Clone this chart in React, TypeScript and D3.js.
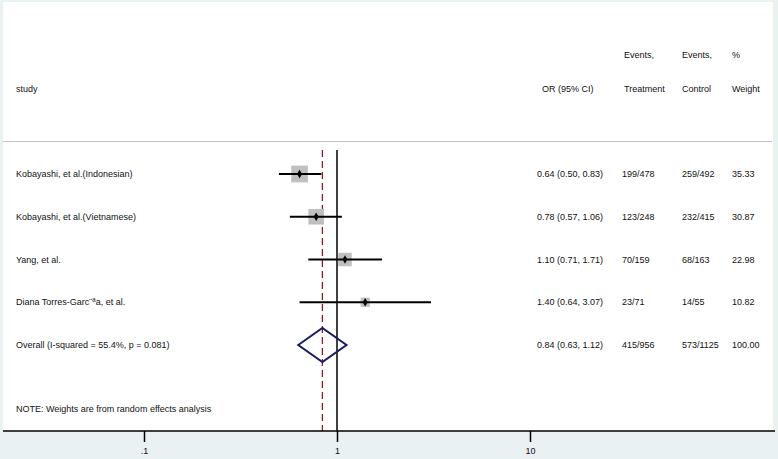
import React, { useRef, useEffect } from "react";
import * as d3 from "d3";

// study rows
const studies = [
  "Kobayashi, et al.(Indonesian)",
  "Kobayashi, et al.(Vietnamese)",
  "Yang, et al.",
  "Diana Torres-Garc\u00a8\u00aaa, et al.",
];
const oddsRatio = [0.64, 0.78, 1.1, 1.4];
const ciLow = [0.5, 0.57, 0.71, 0.64];
const ciHigh = [0.83, 1.06, 1.71, 3.07];
const eventsTreatment = ["199/478", "123/248", "70/159", "23/71"];
const eventsControl = ["259/492", "232/415", "68/163", "14/55"];
const weights = [35.33, 30.87, 22.98, 10.82];

// pooled estimate
const overallLabel = "Overall  (I-squared = 55.4%, p = 0.081)";
const overallOR = 0.84;
const overallLow = 0.63;
const overallHigh = 1.12;
const overallTreatment = "415/956";
const overallControl = "573/1125";
const overallWeight = "100.00";

const axisTicks = [0.1, 1, 10];
const axisTickLabels = [".1", "1", "10"];

const fmt = d3.format(".2f");

const ForestPlot: React.FC = () => {
  const ref = useRef<SVGSVGElement | null>(null);

  useEffect(() => {
    if (!ref.current) return;
    const svg = d3.select(ref.current);
    svg.selectAll("*").remove();

    const width = 778;
    const height = 459;
    const font = "'Liberation Sans', Arial, sans-serif";
    const fs = 9;

    // background + white plot region
    svg.append("rect").attr("width", width).attr("height", height).attr("fill", "#e9f1f3");
    svg.append("rect").attr("x", 3).attr("y", 2).attr("width", 770).attr("height", 429).attr("fill", "#ffffff");

    const x = d3.scaleLog().domain([0.1, 10]).range([144, 530]);
    const rowIdx = d3.range(studies.length + 1);
    const y = d3.scalePoint<number>().domain(rowIdx).range([174, 345]);
    const box = d3.scaleSqrt().domain([0, d3.max(weights)!]).range([0, 16.7]);

    const cols = { study: 16, or: 537, treat: 622, ctrl: 682, wt: 732 };

    const text = (tx: number, ty: number, s: string) =>
      svg
        .append("text")
        .attr("x", tx)
        .attr("y", ty)
        .attr("dy", "0.35em")
        .style("font-family", font)
        .style("font-size", `${fs}px`)
        .style("fill", "#111")
        .text(s);

    // header
    const h1 = 55;
    const h2 = 89;
    text(cols.treat + 2, h1, "Events,");
    text(cols.ctrl, h1, "Events,");
    text(cols.wt, h1, "%");
    text(cols.study, h2, "study");
    text(cols.or + 5, h2, "OR (95% CI)");
    text(cols.treat + 2, h2, "Treatment");
    text(cols.ctrl, h2, "Control");
    text(cols.wt, h2, "Weight");

    svg
      .append("line")
      .attr("x1", 3)
      .attr("x2", 772)
      .attr("y1", 141.5)
      .attr("y2", 141.5)
      .attr("stroke", "#c4c4c4")
      .attr("stroke-width", 1);

    const axisY = 431;
    const lineTop = 150;

    // null line
    svg
      .append("line")
      .attr("x1", x(1))
      .attr("x2", x(1))
      .attr("y1", lineTop)
      .attr("y2", axisY)
      .attr("stroke", "#000")
      .attr("stroke-width", 1.5);

    // overall dashed line
    svg
      .append("line")
      .attr("x1", x(overallOR))
      .attr("x2", x(overallOR))
      .attr("y1", lineTop)
      .attr("y2", axisY)
      .attr("stroke", "#8a1c2c")
      .attr("stroke-width", 1.3)
      .attr("stroke-dasharray", "7,4");

    // study rows
    studies.forEach((s, i) => {
      const cy = y(i)!;
      const side = box(weights[i]);
      svg
        .append("rect")
        .attr("x", x(oddsRatio[i]) - side / 2)
        .attr("y", cy - side / 2)
        .attr("width", side)
        .attr("height", side)
        .attr("fill", "#bfbfbf");
      svg
        .append("line")
        .attr("x1", x(ciLow[i]))
        .attr("x2", x(ciHigh[i]))
        .attr("y1", cy)
        .attr("y2", cy)
        .attr("stroke", "#000")
        .attr("stroke-width", 2);
      svg
        .append("path")
        .attr("transform", `translate(${x(oddsRatio[i])},${cy})`)
        .attr("d", d3.symbol(d3.symbolDiamond, 22)())
        .attr("fill", "#000");

      text(cols.study, cy, s);
      text(cols.or, cy, `${fmt(oddsRatio[i])} (${fmt(ciLow[i])}, ${fmt(ciHigh[i])})`);
      text(cols.treat, cy, eventsTreatment[i]);
      text(cols.ctrl, cy, eventsControl[i]);
      text(cols.wt, cy, fmt(weights[i]));
    });

    // overall diamond
    const oy = y(studies.length)!;
    const dh = 17;
    svg
      .append("path")
      .attr(
        "d",
        d3.line()([
          [x(overallLow), oy],
          [x(overallOR), oy - dh],
          [x(overallHigh), oy],
          [x(overallOR), oy + dh],
        ]) + "Z"
      )
      .attr("fill", "none")
      .attr("stroke", "#1b1b63")
      .attr("stroke-width", 2);

    text(cols.study, oy, overallLabel);
    text(cols.or, oy, `${fmt(overallOR)} (${fmt(overallLow)}, ${fmt(overallHigh)})`);
    text(cols.treat, oy, overallTreatment);
    text(cols.ctrl, oy, overallControl);
    text(cols.wt, oy, overallWeight);

    text(cols.study, 409, "NOTE: Weights are from random effects analysis");

    // x axis
    svg
      .append("line")
      .attr("x1", 3)
      .attr("x2", 775)
      .attr("y1", axisY)
      .attr("y2", axisY)
      .attr("stroke", "#000")
      .attr("stroke-width", 1.5);

    const ax = svg
      .append("g")
      .attr("transform", `translate(0,${axisY})`)
      .call(
        d3
          .axisBottom(x)
          .tickValues(axisTicks)
          .tickSize(11)
          .tickFormat((d, i) => axisTickLabels[i])
      );
    ax.select(".domain").remove();
    ax.selectAll(".tick line").attr("stroke", "#000").attr("stroke-width", 1.5);
    ax.selectAll(".tick text")
      .attr("y", 17)
      .style("font-family", font)
      .style("font-size", `${fs}px`)
      .style("fill", "#111");
  }, []);

  return (
    <svg
      ref={ref}
      width={778}
      height={459}
      style={{ position: "absolute", left: 0, top: 0, display: "block" }}
    />
  );
};

export default function App() {
  return <ForestPlot />;
}
